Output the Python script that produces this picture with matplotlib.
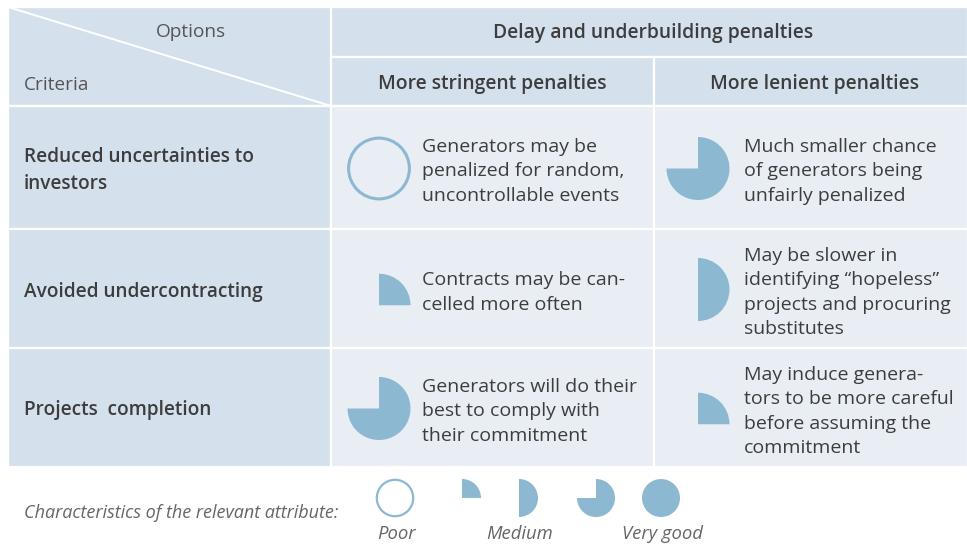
import matplotlib
matplotlib.use("Agg")
import matplotlib.pyplot as plt
from matplotlib.patches import Rectangle, Wedge, Circle

# ---- data ----
header_top = "Delay and underbuilding penalties"
options = ["More stringent penalties", "More lenient penalties"]
criteria = ["Reduced uncertainties to\ninvestors",
            "Avoided undercontracting",
            "Projects  completion"]
# Harvey-ball levels in quarters (0 = empty circle, 4 = full)
levels_stringent = [0, 1, 3]
levels_lenient = [3, 2, 1]
texts_stringent = ["Generators may be\npenalized for random,\nuncontrollable events",
                   "Contracts may be can-\ncelled more often",
                   "Generators will do their\nbest to comply with\ntheir commitment"]
texts_lenient = ["Much smaller chance\nof generators being\nunfairly penalized",
                 "May be slower in\nidentifying \u201chopeless\u201d\nprojects and procuring\nsubstitutes",
                 "May induce genera-\ntors to be more careful\nbefore assuming the\ncommitment"]
legend_levels = [0, 1, 2, 3, 4]
legend_labels = ["Poor", "", "Medium", "", "Very good"]
legend_title = "Characteristics of the relevant attribute:"

# ---- style ----
HEAD = "#d4e1ec"
BODY = "#e9eef5"
BALL = "#8cb8d2"
TXT = "#3d3d3d"
FONT = "Open Sans"

W, H = 967, 552
fig = plt.figure(figsize=(W / 100, H / 100), dpi=100)
ax = fig.add_axes([0, 0, 1, 1])
ax.set_xlim(0, W)
ax.set_ylim(H, 0)
ax.set_aspect("equal")
ax.axis("off")

def cell(x0, y0, x1, y1, color):
    ax.add_patch(Rectangle((x0, y0), x1 - x0, y1 - y0, facecolor=color,
                           edgecolor="white", linewidth=1.6, zorder=1))

def ball(cx, cy, r, level, lw=2.2, shift_quarter=True):
    if level == 0:
        ax.add_patch(Circle((cx, cy), r - lw / 2, facecolor="none", edgecolor=BALL,
                            linewidth=lw, zorder=3))
    elif level == 4:
        ax.add_patch(Circle((cx, cy), r, facecolor=BALL, edgecolor="none", zorder=3))
    else:
        if level == 1 and shift_quarter:
            cy = cy + r / 2
        # y axis inverted: data angle -90 is screen "up"
        ax.add_patch(Wedge((cx, cy), r, -90, -90 + 90 * level, facecolor=BALL,
                           edgecolor="none", zorder=3))

# column / row geometry (pixels)
xs = [8, 331, 654, 968]
hy = [7, 57, 106]
rows = [(106, 229), (229, 348), (348, 467)]

# header
cell(xs[0], hy[0], xs[1], hy[2], HEAD)
cell(xs[1], hy[0], xs[3], hy[1], HEAD)
cell(xs[1], hy[1], xs[2], hy[2], HEAD)
cell(xs[2], hy[1], xs[3], hy[2], HEAD)
ax.plot([xs[0], xs[1]], [hy[0], hy[2]], color="white", lw=1.4, zorder=2)
ax.text(191, 32, "Options", ha="center", va="center", fontsize=13.7,
        family=FONT, color="#555555", zorder=4)
ax.text(24, 85, "Criteria", ha="left", va="center", fontsize=13.7,
        family=FONT, color="#555555", zorder=4)
ax.text(653, 33, header_top, ha="center", va="center",
        fontsize=13.9, family=FONT, fontweight="semibold", color=TXT, zorder=4)
for cx, opt in zip([492, 814], options):
    ax.text(cx, 84, opt, ha="center", va="center", fontsize=13.9, family=FONT,
            fontweight="semibold", color=TXT, zorder=4)

# body
for i, (y0, y1) in enumerate(rows):
    cy = (y0 + y1) / 2 + 1
    cell(xs[0], y0, xs[1], y1, HEAD)
    cell(xs[1], y0, xs[2], y1, BODY)
    cell(xs[2], y0, xs[3], y1, BODY)
    ax.text(24, cy + 2, criteria[i], ha="left", va="center", fontsize=13.7,
            family=FONT, fontweight="semibold", color=TXT, linespacing=1.41, zorder=4)
    ball(379, cy, 31.5, levels_stringent[i])
    ball(698, cy, 31.5, levels_lenient[i])
    ax.text(422, cy + 3, texts_stringent[i], ha="left", va="center", fontsize=14,
            family=FONT, color=TXT, linespacing=1.44, zorder=4)
    ax.text(744, cy + 3, texts_lenient[i], ha="left", va="center", fontsize=14,
            family=FONT, color=TXT, linespacing=1.44, zorder=4)

# legend
ax.text(24, 513, legend_title, ha="left", va="center", fontsize=13,
        family=FONT, style="italic", color="#666666")
leg_x = [395, 462, 519, 596, 661]
for x, lv, lab in zip(leg_x, legend_levels, legend_labels):
    ball(x, 498, 19, lv, lw=1.6, shift_quarter=False)
    if lab:
        ax.text(x + 1, 534, lab, ha="center", va="center", fontsize=13.3,
                family=FONT, style="italic", color="#666666")

fig.savefig("out.png", dpi=100)
